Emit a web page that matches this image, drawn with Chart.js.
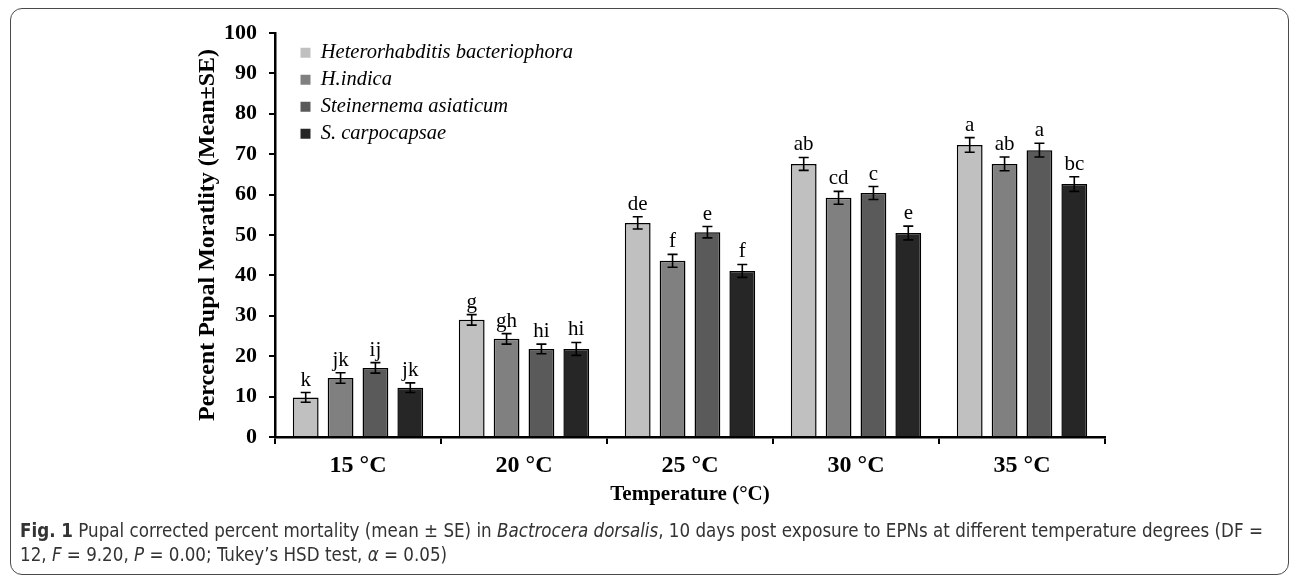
<!DOCTYPE html>
<html>
<head>
<meta charset="utf-8">
<script src="https://cdn.jsdelivr.net/npm/chart.js@4/dist/chart.umd.min.js"></script>
<style>
  body { margin: 0; background: #fff; }
  #frame {
    position: absolute; left: 10px; top: 8px; width: 1277px; height: 565px;
    border: 1.5px solid #4a4a4a; border-radius: 12px;
  }
  #wrap { position: absolute; left: 0; top: 0; width: 1290px; height: 520px; }
  #caption {
    position: absolute; left: 20px; top: 519px; width: 1265px;
    font-family: "DejaVu Sans Condensed", "Open Sans", sans-serif;
    font-size: 18.6px; line-height: 24px; color: #333; white-space: nowrap;
  }
</style>
</head>
<body>
<div id="frame"></div>
<div id="wrap"><canvas id="chart" width="1290" height="520"></canvas></div>
<div id="caption"><b>Fig. 1</b> Pupal corrected percent mortality (mean ± SE) in <i>Bactrocera dorsalis</i>, 10 days post exposure to EPNs at different temperature degrees (DF =<br>12, <i>F</i> = 9.20, <i>P</i> = 0.00; Tukey’s HSD test, <i>α</i> = 0.05)</div>
<script>
// categories and series
const temperatures = ['15 °C', '20 °C', '25 °C', '30 °C', '35 °C'];

const hbMean = [9.8, 29.0, 53.0, 67.6, 72.3];
const hiMean = [14.6, 24.3, 43.6, 59.2, 67.6];
const saMean = [17.1, 21.8, 50.7, 60.4, 71.0];
const scMean = [12.2, 21.8, 41.1, 50.5, 62.6];

const hbSE = [1.2, 1.3, 1.5, 1.6, 1.8];
const hiSE = [1.3, 1.3, 1.6, 1.6, 1.7];
const saSE = [1.3, 1.2, 1.4, 1.6, 1.7];
const scSE = [1.2, 1.6, 1.6, 1.7, 1.8];

const hbLetters = ['k', 'g', 'de', 'ab', 'a'];
const hiLetters = ['jk', 'gh', 'f', 'cd', 'ab'];
const saLetters = ['ij', 'hi', 'e', 'c', 'a'];
const scLetters = ['jk', 'hi', 'f', 'e', 'bc'];

const serif = '"Liberation Serif", "Times New Roman", serif';
Chart.defaults.font.family = serif;
Chart.defaults.color = '#000';

// error bars + Tukey letters on top of each bar
const errorBars = {
  id: 'errorBars',
  afterDatasetsDraw(chart) {
    const ctx = chart.ctx;
    const y = chart.scales.y;
    chart.data.datasets.forEach((ds, di) => {
      const meta = chart.getDatasetMeta(di);
      meta.data.forEach((bar, i) => {
        const top = y.getPixelForValue(ds.data[i] + ds.errors[i]);
        const bot = y.getPixelForValue(ds.data[i] - ds.errors[i]);
        ctx.save();
        ctx.strokeStyle = '#000';
        ctx.lineWidth = 1.6;
        ctx.beginPath();
        ctx.moveTo(bar.x, top); ctx.lineTo(bar.x, bot);
        ctx.moveTo(bar.x - 5, top); ctx.lineTo(bar.x + 5, top);
        ctx.moveTo(bar.x - 5, bot); ctx.lineTo(bar.x + 5, bot);
        ctx.stroke();
        ctx.fillStyle = '#000';
        ctx.font = '21px ' + serif;
        ctx.textAlign = 'center';
        ctx.textBaseline = 'alphabetic';
        ctx.fillText(ds.letters[i], bar.x, top - 7);
        ctx.restore();
      });
    });
  }
};

// legend sits inside the plot, nudged off the y axis
// (a vertical legend resets its top to 0, so put it back under the plot top)
const legendNudge = {
  id: 'legendNudge',
  afterLayout(chart) {
    const lg = chart.legend;
    if (!lg) return;
    const h = lg.height;
    lg.left = chart.chartArea.left + 19;
    lg.right = lg.left + lg.width;
    lg.top = chart.chartArea.top + 3;
    lg.bottom = lg.top + h;
  }
};

new Chart(document.getElementById('chart'), {
  type: 'bar',
  data: {
    labels: temperatures,
    datasets: [
      { label: 'Heterorhabditis bacteriophora', data: hbMean, errors: hbSE, letters: hbLetters, backgroundColor: '#c0c0c0' },
      { label: 'H.indica', data: hiMean, errors: hiSE, letters: hiLetters, backgroundColor: '#808080' },
      { label: 'Steinernema asiaticum', data: saMean, errors: saSE, letters: saLetters, backgroundColor: '#5a5a5a' },
      { label: 'S. carpocapsae', data: scMean, errors: scSE, letters: scLetters, backgroundColor: '#262626' }
    ]
  },
  options: {
    responsive: false,
    animation: false,
    devicePixelRatio: 1,
    layout: { padding: { left: 193, right: 185, top: 33, bottom: 13 } },
    datasets: {
      bar: { borderColor: '#000', borderWidth: 1.5, categoryPercentage: 0.84, barPercentage: 0.74 }
    },
    plugins: {
      tooltip: { enabled: false },
      legend: {
        position: 'chartArea',
        align: 'start',
        labels: {
          boxWidth: 10, boxHeight: 10, padding: 6.5,
          color: '#000',
          font: { family: serif, size: 20.5, style: 'italic' },
          generateLabels(chart) {
            const items = Chart.defaults.plugins.legend.labels.generateLabels(chart);
            items.forEach(it => { it.lineWidth = 0; it.strokeStyle = 'rgba(0,0,0,0)'; });
            return items;
          }
        }
      }
    },
    scales: {
      x: {
        afterFit(scale) { scale.height = 70; },
        grid: { offset: true, drawOnChartArea: false, tickLength: 7, color: '#000', lineWidth: 2 },
        border: { color: '#000', width: 2.5 },
        ticks: { padding: 7, font: { size: 24, weight: 'bold' } },
        title: { display: true, text: 'Temperature (°C)', padding: 0, font: { size: 21, weight: 'bold' } }
      },
      y: {
        min: 0, max: 100,
        afterFit(scale) { scale.width = 82; },
        grid: { drawOnChartArea: false, tickLength: 6, color: '#000', lineWidth: 2 },
        border: { color: '#000', width: 2.5 },
        ticks: { stepSize: 10, padding: 12, font: { size: 22, weight: 'bold' } },
        title: { display: true, text: 'Percent Pupal Moratlity (Mean±SE)', padding: 0, font: { size: 24, weight: 'bold' } }
      }
    }
  },
  plugins: [errorBars, legendNudge]
});
</script>
</body>
</html>
